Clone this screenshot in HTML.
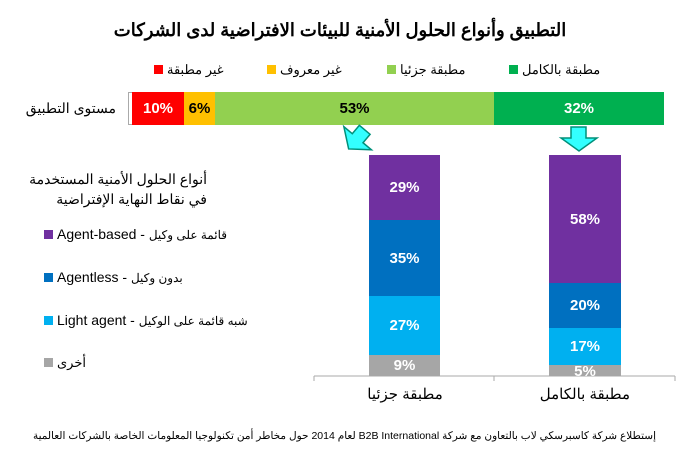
<!DOCTYPE html>
<html><head><meta charset="utf-8"><style>
body{margin:0;width:700px;height:470px;background:#fff;position:relative;font-family:"Liberation Sans","Noto Sans CJK SC",sans-serif;overflow:hidden}
.a{position:absolute;white-space:nowrap}
.seg{position:absolute;color:#fff;font-weight:bold;font-size:15px;display:flex;align-items:center;justify-content:center}
.lg{position:absolute;font-size:13px;white-space:nowrap}
.sq{display:inline-block;width:9px;height:9px;margin-right:4px;vertical-align:0}
</style></head><body>
<div class="a" style="left:0;width:680px;text-align:center;top:20px;font-size:18px;font-weight:bold;direction:rtl">التطبيق وأنواع الحلول الأمنية للبيئات الافتراضية لدى الشركات</div>

<div class="lg" style="left:509px;top:62px"><span class="sq" style="background:#00b050"></span><span dir="rtl">مطبقة بالكامل</span></div>
<div class="lg" style="left:387px;top:62px"><span class="sq" style="background:#92d050"></span><span dir="rtl">مطبقة جزئيا</span></div>
<div class="lg" style="left:267px;top:62px"><span class="sq" style="background:#ffc000"></span><span dir="rtl">غير معروف</span></div>
<div class="lg" style="left:154px;top:62px"><span class="sq" style="background:#ff0000"></span><span dir="rtl">غير مطبقة</span></div>

<div class="a" style="right:584px;top:100px;font-size:14px;direction:rtl">مستوى التطبيق</div>
<div class="a" style="left:128px;top:92px;width:1px;height:33px;background:#aaa"></div>
<div class="a" style="left:128px;top:92px;width:4px;height:1px;background:#aaa"></div>
<div class="a" style="left:128px;top:124px;width:4px;height:1px;background:#aaa"></div>
<div class="seg" style="left:132px;top:92px;width:52px;height:33px;background:#ff0000">10%</div>
<div class="seg" style="left:184px;top:92px;width:31px;height:33px;background:#ffc000;color:#000">6%</div>
<div class="seg" style="left:215px;top:92px;width:279px;height:33px;background:#92d050;color:#000">53%</div>
<div class="seg" style="left:494px;top:92px;width:170px;height:33px;background:#00b050">32%</div>

<svg class="a" style="left:0;top:0" width="700" height="470">
<g transform="rotate(40 357 139)">
<polygon points="350,127 364,127 364,138 375,138 357,152 339,138 350,138" fill="#33ffff" stroke="#00907a" stroke-width="1.5"/>
</g>
<polygon points="571,127 586,127 586,138 597,138 579,151 561,138 571,138" fill="#33ffff" stroke="#00907a" stroke-width="1.5"/>
<line x1="314" y1="376" x2="675" y2="376" stroke="#aaa"/>
<line x1="314" y1="376" x2="314" y2="381" stroke="#aaa"/>
<line x1="494" y1="376" x2="494" y2="381" stroke="#aaa"/>
<line x1="675" y1="376" x2="675" y2="381" stroke="#aaa"/>
</svg>

<div class="seg" style="left:369px;top:155px;width:71px;height:65px;background:#7030a0">29%</div>
<div class="seg" style="left:369px;top:220px;width:71px;height:76px;background:#0070c0">35%</div>
<div class="seg" style="left:369px;top:296px;width:71px;height:59px;background:#00b0f0">27%</div>
<div class="seg" style="left:369px;top:355px;width:71px;height:21px;background:#a6a6a6">9%</div>

<div class="seg" style="left:549px;top:155px;width:72px;height:128px;background:#7030a0">58%</div>
<div class="seg" style="left:549px;top:283px;width:72px;height:45px;background:#0070c0">20%</div>
<div class="seg" style="left:549px;top:328px;width:72px;height:37px;background:#00b0f0">17%</div>
<div class="seg" style="left:549px;top:365px;width:72px;height:11px;background:#a6a6a6;overflow:hidden;align-items:flex-start;line-height:14px">5%</div>

<div class="a" style="left:365px;top:385px;width:80px;text-align:center;font-size:15px;direction:rtl">مطبقة جزئيا</div>
<div class="a" style="left:540px;top:385px;width:90px;text-align:center;font-size:15px;direction:rtl">مطبقة بالكامل</div>

<div class="a" style="right:493px;top:169px;font-size:14px;direction:rtl;text-align:right;line-height:20px">أنواع الحلول الأمنية المستخدمة<br>في نقاط النهاية الإفتراضية</div>
<div class="lg" style="left:44px;top:226px"><span class="sq" style="background:#7030a0"></span><span style="font-size:14px">Agent-based - </span><span dir="rtl" style="font-size:12px">قائمة على وكيل</span></div>
<div class="lg" style="left:44px;top:269px"><span class="sq" style="background:#0070c0"></span><span style="font-size:14px">Agentless - </span><span dir="rtl" style="font-size:12px">بدون وكيل</span></div>
<div class="lg" style="left:44px;top:312px"><span class="sq" style="background:#00b0f0"></span><span style="font-size:14px">Light agent - </span><span dir="rtl" style="font-size:12px">شبه قائمة على الوكيل</span></div>
<div class="lg" style="left:44px;top:355px"><span class="sq" style="background:#a6a6a6"></span><span dir="rtl">أخرى</span></div>

<div class="a" style="left:30px;width:626px;top:430px;font-size:10.5px;direction:rtl;text-align:right">إستطلاع شركة كاسبرسكي لاب بالتعاون مع شركة B2B International لعام 2014 حول مخاطر أمن تكنولوجيا المعلومات الخاصة بالشركات العالمية</div>
</body></html>
